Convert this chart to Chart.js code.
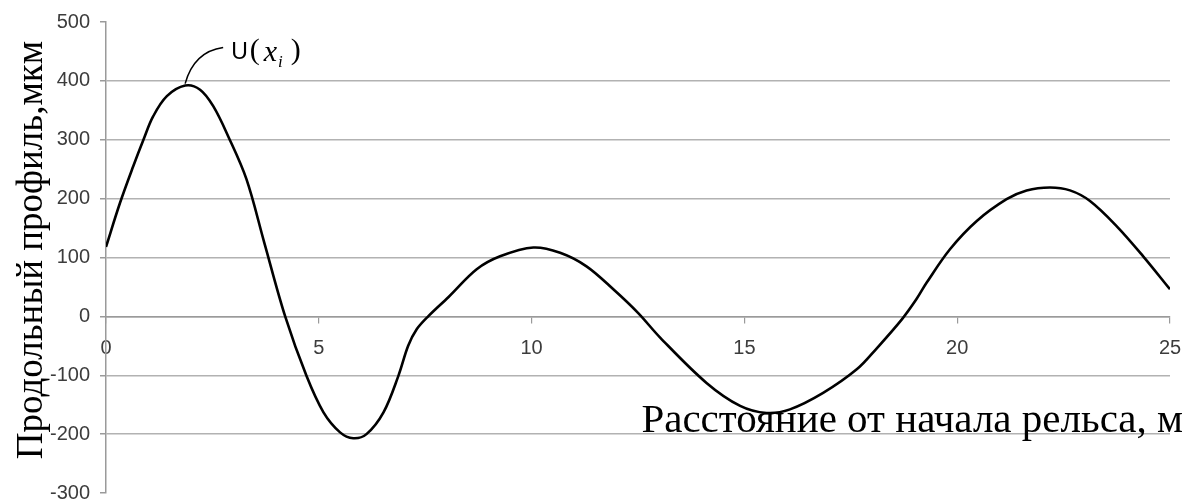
<!DOCTYPE html>
<html>
<head>
<meta charset="utf-8">
<script src="https://cdn.jsdelivr.net/npm/chart.js@4.4.1/dist/chart.umd.min.js"></script>
<style>
  html, body { margin: 0; padding: 0; background: #ffffff; }
  #wrap { width: 1186px; height: 504px; }
</style>
</head>
<body>
<div id="wrap"><canvas id="chart" width="1186" height="504"></canvas></div>
<script>
// Distance along the rail, m
const distance = [0, 0.33, 0.64, 0.88, 1.11, 1.43, 1.86, 2.21, 2.52, 2.87, 3.30, 3.72, 4.21, 4.71,
  5.11, 5.50, 5.81, 6.12, 6.52, 6.87, 7.10, 7.30, 7.57, 8.05, 8.71, 9.26, 10.04, 10.67, 11.29,
  11.92, 12.50, 13.02, 14.11, 14.90, 15.52, 16.07, 16.85, 17.64, 18.10, 18.70, 19.04,
  19.28, 19.83, 20.46, 21.16, 21.63, 22.18, 22.65, 23.12, 23.75, 24.37, 25.00];
// Longitudinal profile U(x_i), µm
const profile = [118, 193, 255, 300, 340, 374, 392, 385, 357, 306, 233, 125, 0, -101,
  -163, -197, -207, -200, -163, -101, -50, -22, 0, 33, 80, 102, 117, 108, 85,
  46, 6, -36, -113, -152, -164, -158, -130, -90, -55, -5, 29,
  57, 114, 162, 199, 214, 219, 214, 196, 153, 102, 46];

const xTicks = [0, 5, 10, 15, 20, 25];
const yTicks = [-300, -200, -100, 0, 100, 200, 300, 400, 500];

const xTitle = 'Расстояние от начала рельса, м';
const yTitle = 'Продольный профиль,мкм';
const curveName = 'U';
const curveArg = 'x';
const curveIndex = 'i';

const points = distance.map((d, i) => ({ x: d, y: profile[i] }));

const SERIF = '"Liberation Serif", "Times New Roman", serif';
const SANS = '"Liberation Sans", Arial, sans-serif';
const tickColor = '#3c3c3c';
const axisColor = '#9a9a9a';
const gridColor = '#b2b2b2';

// Axis titles and the curve label with its leader line
const decorations = {
  id: 'decorations',
  afterDraw(chart) {
    const ctx = chart.ctx;
    const xs = chart.scales.x, ys = chart.scales.y;
    ctx.save();
    ctx.fillStyle = '#000';

    // y title, rotated
    ctx.save();
    ctx.translate(42, 250);
    ctx.rotate(-Math.PI / 2);
    ctx.font = '37px ' + SERIF;
    ctx.textAlign = 'center';
    ctx.textBaseline = 'alphabetic';
    ctx.fillText(yTitle, 0, 0);
    ctx.restore();

    // x title, right aligned under the plot
    ctx.font = '41px ' + SERIF;
    ctx.textAlign = 'right';
    ctx.textBaseline = 'alphabetic';
    ctx.fillText(xTitle, 1183, 432);

    // label at the highest point of the curve
    let k = 0;
    profile.forEach((v, i) => { if (v > profile[k]) k = i; });
    const px = xs.getPixelForValue(distance[k]);
    const py = ys.getPixelForValue(profile[k]);
    ctx.strokeStyle = '#000';
    ctx.lineWidth = 1.5;
    ctx.beginPath();
    ctx.moveTo(px, py - 2);
    ctx.quadraticCurveTo(px + 9, py - 34, px + 38, py - 38);
    ctx.stroke();

    ctx.textAlign = 'left';
    let cx = px + 46;
    const base = py - 27;
    ctx.font = '23px ' + SANS;
    ctx.fillText(curveName, cx, base);
    cx += ctx.measureText(curveName).width + 2;
    ctx.font = '30px ' + SERIF;
    ctx.fillText('(', cx, base);
    cx += ctx.measureText('(').width + 4;
    ctx.font = 'italic 30px ' + SERIF;
    ctx.fillText(curveArg, cx, base + 2);
    cx += ctx.measureText(curveArg).width + 1;
    ctx.font = 'italic 17px ' + SERIF;
    ctx.fillText(curveIndex, cx, base + 8);
    cx += ctx.measureText(curveIndex).width + 8;
    ctx.font = '30px ' + SERIF;
    ctx.fillText(')', cx, base);
    ctx.restore();
  }
};

new Chart(document.getElementById('chart'), {
  type: 'line',
  data: {
    datasets: [{
      data: points,
      borderColor: '#000000',
      borderWidth: 2.6,
      pointRadius: 0,
      fill: false,
      tension: 0.35
    }]
  },
  options: {
    responsive: false,
    animation: false,
    devicePixelRatio: 1,
    layout: { padding: { top: 22, right: 16, bottom: 11, left: 0 } },
    plugins: { legend: { display: false }, tooltip: { enabled: false } },
    scales: {
      x: {
        type: 'linear',
        min: 0,
        max: 25,
        position: { y: 0 },
        afterBuildTicks: s => { s.ticks = xTicks.map(v => ({ value: v })); },
        afterFit: s => { s.paddingLeft = 0; s.paddingRight = 0; s.paddingTop = 0; s.paddingBottom = 0; },
        ticks: {
          color: tickColor,
          font: { family: SANS, size: 20 },
          padding: 14,
          maxRotation: 0,
          autoSkip: false
        },
        grid: {
          drawOnChartArea: false,
          drawTicks: true,
          tickLength: 6,
          color: axisColor,
          lineWidth: 1.2
        },
        border: { display: true, color: axisColor, width: 1.5 }
      },
      y: {
        type: 'linear',
        min: -300,
        max: 500,
        afterBuildTicks: s => { s.ticks = yTicks.map(v => ({ value: v })); },
        afterFit: s => { s.width = 106; s.paddingTop = 0; s.paddingBottom = 0; },
        ticks: {
          color: tickColor,
          font: { family: SANS, size: 20 },
          padding: 10
        },
        grid: {
          color: c => (c.tick && (c.tick.value === 500 || c.tick.value === -300)) ? 'rgba(0,0,0,0)' : gridColor,
          tickColor: axisColor,
          lineWidth: 1.5,
          drawTicks: true,
          tickLength: 6
        },
        border: { display: true, color: axisColor, width: 1.5 }
      }
    }
  },
  plugins: [decorations]
});
</script>
</body>
</html>
